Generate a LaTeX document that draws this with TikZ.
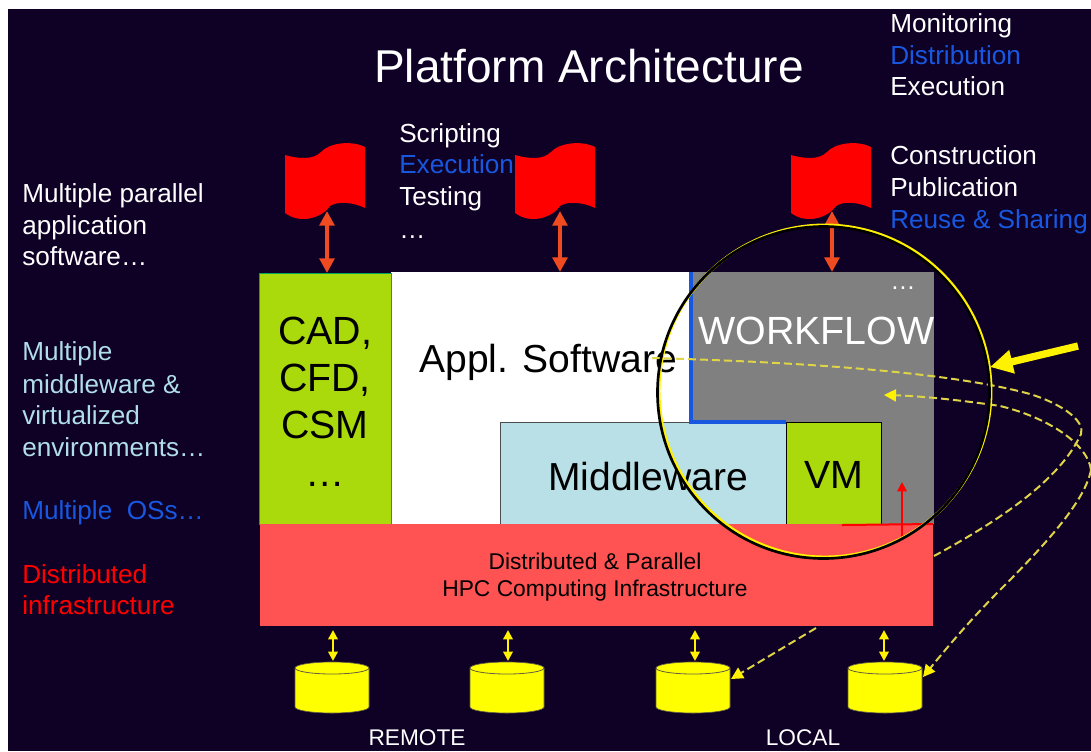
\documentclass[tikz,border=0pt]{standalone}
\usepackage{fontspec}
\setmainfont{Liberation Sans}
\usetikzlibrary{arrows.meta}
\definecolor{bgdark}{RGB}{15,0,38}
\definecolor{lblue}{RGB}{184,224,230}
\definecolor{lgreen}{RGB}{170,217,12}
\definecolor{wgray}{RGB}{128,128,128}
\definecolor{infra}{RGB}{255,82,82}
\definecolor{tblue}{RGB}{24,88,224}
\definecolor{mblue}{RGB}{176,222,232}
\definecolor{oarrow}{RGB}{240,74,32}
\definecolor{cyl}{RGB}{255,255,0}
\definecolor{dashy}{RGB}{222,212,70}
\newcommand{\fs}[1]{\fontsize{#1}{#1}\selectfont}
\newcommand{\flagat}[2]{\fill[red,shift={(#1,#2)}] (0,12) .. controls (14,16) and (28,17) .. (36,9) .. controls (44,0) and (66,-3) .. (80,4) -- (80,65) .. controls (68,59) and (52,58) .. (45,63) .. controls (38,74) and (16,82) .. (0,70) -- cycle;}
\newcommand{\cylat}[2]{\begin{scope}[shift={(#1,#2)}]
\fill[cyl,draw=black!70!yellow,line width=.5pt] (0,6) -- (0,45) arc[start angle=180,end angle=0,x radius=37,y radius=6] -- (74,6) arc[start angle=0,end angle=-180,x radius=37,y radius=6] -- cycle;
\draw[black!70!yellow,line width=.6pt] (0,6) arc[start angle=180,end angle=0,x radius=37,y radius=6];
\end{scope}}
\tikzset{
 block/.style={anchor=north west,inner sep=0pt,outer sep=0pt,align=center},
 lab/.style={anchor=base west,inner sep=0pt,text=white,font=\fs{19.6}},
 orarrow/.style={oarrow,line width=3pt,{Triangle[width=11pt,length=11pt]}-{Triangle[width=11pt,length=11pt]}},
 yarrow/.style={yellow,line width=2pt,{Triangle[width=7pt,length=7pt]}-{Triangle[width=7pt,length=7pt]}},
 dashline/.style={dashy,line width=1.5pt,dash pattern=on 6pt off 3pt},
 yhead/.style={-{Triangle[width=9pt,length=9pt,fill=yellow,color=yellow]}},
}
\begin{document}
\begin{tikzpicture}[x=0.75pt,y=-0.75pt]
\useasboundingbox (0,0) rectangle (1091,751);
\fill[white] (0,0) rectangle (1091,751);
\fill[bgdark] (8,9) rectangle (1091,751);
\node[anchor=center,inner sep=0pt,text=white,font=\fs{34.5}] (title) at (589,66) {Platform Architecture};
% right top
\node[lab] (m1) at (890,32) {Monitoring};
\node[lab,text=tblue] (m2) at (890,64) {Distribution};
\node[lab] (m3) at (890,95) {Execution};
\node[lab] (c1) at (890,164) {Construction};
\node[lab] (c2) at (890,196) {Publication};
\node[lab,text=tblue] (c3) at (890,228) {Reuse \& Sharing};
\node[lab] (s1) at (399,142) {Scripting};
\node[lab,text=tblue] (s2) at (399,173) {Execution};
\node[lab] (s3) at (399,205) {Testing};
\node[lab] (s4) at (399,238) {…};
% left
\node[lab] (l1) at (22,202) {Multiple parallel};
\node[lab] (l2) at (22,234) {application};
\node[lab] (l3) at (22,265) {software…};
\node[lab,text=mblue] (l4) at (22,360) {Multiple};
\node[lab,text=mblue] (l5) at (22,393) {middleware \&};
\node[lab,text=mblue] (l6) at (22,424) {virtualized};
\node[lab,text=mblue] (l7) at (22,456) {environments…};
\node[lab,text=tblue] (l8) at (22,519) {Multiple\ \ OSs…};
\node[lab,text=red] (l9) at (22,583) {Distributed};
\node[lab,text=red] (l10) at (22,614) {infrastructure};
% flags
\flagat{285}{143}
\flagat{515}{143}
\flagat{791}{143}
\coordinate (f1) at (327,211);
\coordinate (f2) at (560,211);
\coordinate (f3) at (832,211);
% blocks
\node[block,fill=white,minimum width=300*.75pt,minimum height=252*.75pt] (appl) at (391,272) {};
\node[block,fill=wgray,minimum width=244*.75pt,minimum height=252*.75pt] (wf) at (690,272) {};
\node[block,fill=lgreen,draw=teal!70!green,line width=.7pt,minimum width=132*.75pt,minimum height=251*.75pt] (cad) at (259,273) {};
\node[block,fill=lblue,draw=black!70,line width=.5pt,minimum width=286*.75pt,minimum height=102*.75pt] (mw) at (500,422) {};
\node[block,fill=lgreen,draw=black,line width=.6pt,minimum width=95*.75pt,minimum height=102*.75pt] (vm) at (786,422) {};
\node[block,fill=infra,minimum width=673*.75pt,minimum height=102*.75pt] (infra) at (260,524) {};
\draw[tblue,line width=2.4pt] ([xshift=.8pt]wf.north west) -- ([xshift=.8pt]wf.west |- mw.north) -- (vm.north west);
\draw[orarrow] (f1) -- (f1 |- cad.north);
\draw[orarrow] (f2) -- (f2 |- appl.north);
\draw[orarrow] (f3) -- (f3 |- wf.north);
% block text
\node[inner sep=0pt,align=center,font=\fontsize{29.5}{35}\selectfont,text=black] (cadt) at (325,378) {CAD,\\CFD,\\CSM};
\node[inner sep=0pt,font=\fs{29.5}] (cadd) at (325,484) {…};
\node[inner sep=0pt,anchor=west,font=\fs{29.3}] (applt) at (419,362) {Appl. Software};
\node[inner sep=0pt,anchor=west,font=\fs{29.5},text=white] (wft) at (698,331) {WORKFLOW};
\node[inner sep=0pt,font=\fs{19},text=white] (wfd) at (903,288) {…};
\node[inner sep=0pt,font=\fs{29.3}] (mwt) at (648,477) {Middleware};
\node[inner sep=0pt,font=\fs{29.5}] (vmt) at (834,475) {VM};
\node[inner sep=0pt,align=center,font=\fontsize{17.1}{20}\selectfont,text=black] (it) at (595,577) {Distributed \& Parallel\\HPC Computing Infrastructure};
% red bits
\coordinate (rb) at (902,537);
\coordinate (rt) at (902,482);
\coordinate (ra) at (842,525);
\draw[red,line width=1.5pt] (ra) -- (infra.north east);
\draw[red,line width=1.5pt,-{Triangle[width=7pt,length=7pt]}] (rb) -- (rt);
% cylinders
\cylat{295}{662}
\cylat{470}{662}
\cylat{656}{662}
\cylat{848}{662}
\coordinate (c1t) at (333,661);
\coordinate (c2t) at (508,661);
\coordinate (c3t) at (695,661);
\coordinate (c4t) at (884,661);
\draw[yarrow] (c1t) -- ([yshift=-3pt]c1t |- infra.south);
\draw[yarrow] (c2t) -- ([yshift=-3pt]c2t |- infra.south);
\draw[yarrow] (c3t) -- ([yshift=-3pt]c3t |- infra.south);
\draw[yarrow] (c4t) -- ([yshift=-3pt]c4t |- infra.south);
\node[inner sep=0pt,text=white,font=\fs{17}] (rem) at (417,738) {REMOTE};
\node[inner sep=0pt,text=white,font=\fs{17}] (loc) at (803,738) {LOCAL};
% dashed
\coordinate (d1s) at (652,358);
\coordinate (d1e) at (731,679);
\coordinate (d2s) at (923,677);
\coordinate (d2e) at (884,395);
\draw[dashline] (d1s) .. controls (800,362) and (950,372) .. (1030,394) .. controls (1065,405) and (1085,422) .. (1081,434) .. controls (1060,480) and (1000,520) .. (934,556);
\draw[dashline,yhead] (816,628) -- (d1e);
\draw[dashline,yhead] (1091,470) .. controls (1085,500) and (1050,540) .. (1000,590) .. controls (970,620) and (945,650) .. (d2s);
\draw[dashline,yhead] (1091,470) .. controls (1088,445) and (1050,418) .. (1000,406) .. controls (960,400) and (920,396) .. (d2e);
% circle
\draw[yellow,line width=2.2pt] (825,391) circle[radius=166];
\draw[black,line width=2pt] (823.5,392.5) circle[radius=166];
\coordinate (ys) at (1078,346);
\coordinate (ye) at (990,367);
\draw[yellow,line width=5.5pt,-{Triangle[width=17pt,length=17pt]}] (ys) -- (ye);
\end{tikzpicture}
\end{document}
